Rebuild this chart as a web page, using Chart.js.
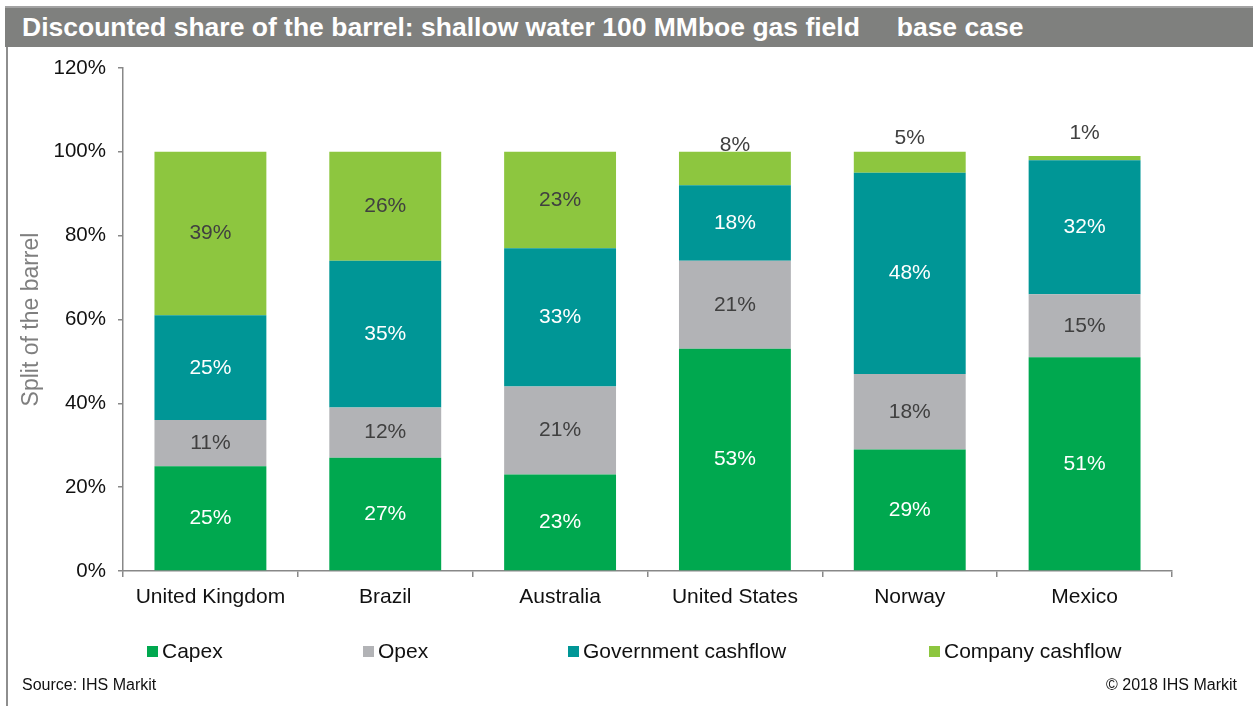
<!DOCTYPE html>
<html>
<head>
<meta charset="utf-8">
<title>Discounted share of the barrel</title>
<script src="https://cdn.jsdelivr.net/npm/chart.js@4.4.1/dist/chart.umd.min.js"></script>
<style>
    body { margin: 0; background: #fff; font-family: "Liberation Sans", Arial, sans-serif; }
    #wrap { position: relative; width: 1253px; height: 706px; overflow: hidden; }
    #header {
        position: absolute; left: 5px; top: 6px; width: 1248px; height: 41px;
        background: #7f807e; border-top: 2px solid #a3a3a3; box-sizing: border-box;
        color: #fff; font-weight: bold; font-size: 26.5px; line-height: 39px;
        padding-left: 17px; white-space: pre;
    }
    #leftLine { position: absolute; left: 6px; top: 47px; width: 2px; height: 659px; background: #8e8e8e; }
    canvas { position: absolute; left: 0; top: 0; }
    .note { position: absolute; top: 676px; font-size: 16px; color: #111; }
</style>
</head>
<body>
<div id="wrap">
    <canvas id="barrelChart" width="1253" height="706"></canvas>
    <div id="header">Discounted share of the barrel: shallow water 100 MMboe gas field     base case</div>
    <div id="leftLine"></div>
    <div class="note" style="left:22px;">Source: IHS Markit</div>
    <div class="note" style="right:16px;">© 2018 IHS Markit</div>
</div>
<script>
// Share of the barrel per country, in percent
const countries = ["United Kingdom", "Brazil", "Australia", "United States", "Norway", "Mexico"];
const capex = [25, 27, 23, 53, 29, 51];
const opex = [11, 12, 21, 21, 18, 15];
const governmentCashflow = [25, 35, 33, 18, 48, 32];
const companyCashflow = [39, 26, 23, 8, 5, 1];
const yTicks = [0, 20, 40, 60, 80, 100, 120];

const FONT = "'Liberation Sans', Arial, sans-serif";

// Percent labels inside each segment; thin top slices get their label above the bar,
// lifted a little further the thinner the slice is
const segmentLabels = {
    id: "segmentLabels",
    afterDatasetsDraw(chart) {
        const ctx = chart.ctx;
        ctx.save();
        ctx.font = "21px " + FONT;
        ctx.textAlign = "center";
        ctx.textBaseline = "middle";
        chart.data.datasets.forEach((ds, i) => {
            chart.getDatasetMeta(i).data.forEach((bar, j) => {
                const v = ds.data[j];
                let y = (bar.y + bar.base) / 2;
                if (v < 10) y = bar.y - 7 - (8 - v) * 2.3;
                ctx.fillStyle = ds.labelColor;
                ctx.fillText(v + "%", bar.x, y);
            });
        });
        ctx.restore();
    }
};

// Legend row under the axis, items at fixed columns
const legendRow = {
    id: "legendRow",
    afterDraw(chart, args, opts) {
        const ctx = chart.ctx;
        ctx.save();
        ctx.font = "21px " + FONT;
        ctx.textAlign = "left";
        ctx.textBaseline = "middle";
        chart.data.datasets.forEach((ds, i) => {
            const x = opts.columns[i];
            ctx.fillStyle = ds.backgroundColor;
            ctx.fillRect(x, opts.y - 5, 11, 11);
            ctx.fillStyle = "#111";
            ctx.fillText(ds.label, x + 15, opts.y + 1);
        });
        ctx.restore();
    }
};

const ctx = document.getElementById("barrelChart").getContext("2d");
new Chart(ctx, {
    type: "bar",
    data: {
        labels: countries,
        datasets: [
            { label: "Capex", data: capex, backgroundColor: "#00a84f", labelColor: "#ffffff" },
            { label: "Opex", data: opex, backgroundColor: "#b2b3b6", labelColor: "#404040" },
            { label: "Government cashflow", data: governmentCashflow, backgroundColor: "#009696", labelColor: "#ffffff" },
            { label: "Company cashflow", data: companyCashflow, backgroundColor: "#8dc63f", labelColor: "#404040" }
        ]
    },
    options: {
        responsive: false,
        animation: false,
        barPercentage: 0.64,
        categoryPercentage: 1,
        layout: { padding: { left: 0, right: 81, top: 68, bottom: 95 } },
        plugins: {
            legend: { display: false },
            tooltip: { enabled: false },
            legendRow: { columns: [147, 363, 568, 929], y: 651 }
        },
        scales: {
            x: {
                stacked: true,
                grid: { offset: true, drawOnChartArea: false, tickLength: 6, color: "#888", lineWidth: 1.5 },
                border: { color: "#888", width: 1.5 },
                ticks: { color: "#111", font: { family: FONT, size: 21 }, padding: 8, maxRotation: 0 },
                afterFit(scale) { scale.height = 40; }
            },
            y: {
                stacked: true,
                min: yTicks[0],
                max: yTicks[yTicks.length - 1],
                afterBuildTicks(scale) { scale.ticks = yTicks.map(v => ({ value: v })); },
                grid: { drawOnChartArea: false, tickLength: 5, color: "#888", lineWidth: 1.5 },
                border: { color: "#888", width: 1.5 },
                ticks: { color: "#111", font: { family: FONT, size: 20.5 }, padding: 12, callback: v => v + "%" },
                title: {
                    display: true,
                    text: "Split of the barrel",
                    color: "#7f7f7f",
                    font: { family: FONT, size: 23 },
                    padding: { top: 18, bottom: 0 }
                },
                afterFit(scale) { scale.width = 123; }
            }
        }
    },
    plugins: [segmentLabels, legendRow]
});
</script>
</body>
</html>
